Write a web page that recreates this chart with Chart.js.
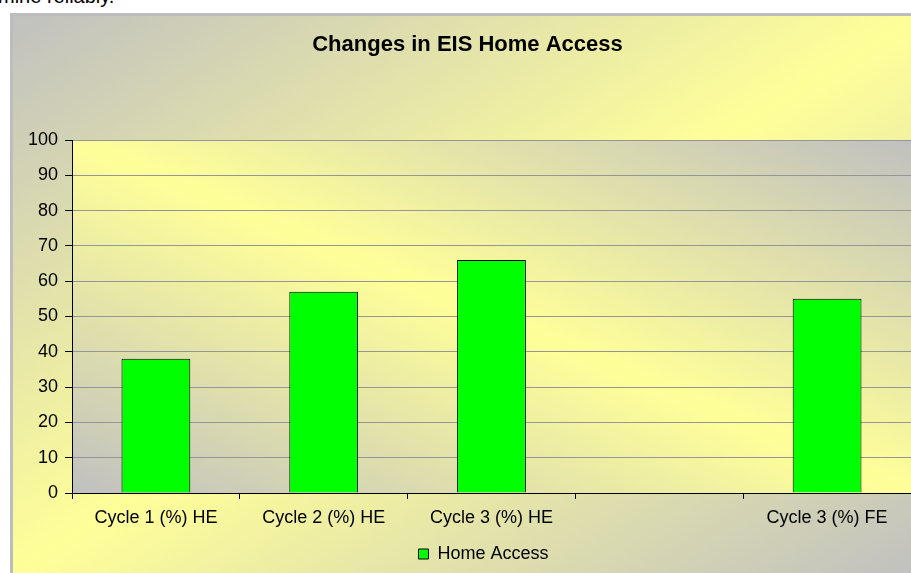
<!DOCTYPE html>
<html>
<head>
<meta charset="utf-8">
<script src="https://cdn.jsdelivr.net/npm/chart.js@4/dist/chart.umd.min.js"></script>
<style>
  html, body { margin: 0; padding: 0; background: #fff; overflow: hidden; width: 911px; height: 573px; }
  #wrap { position: absolute; left: 10px; top: 13px; width: 915px; height: 560px; }
  #frag { position: absolute; left: -2px; top: -14px; font: 20px "Liberation Sans", Arial, sans-serif; color: #000; line-height: 20px; white-space: nowrap; }
</style>
</head>
<body>
<div id="frag">mine reliably.</div>
<div id="wrap"><canvas id="c" width="915" height="560"></canvas></div>
<script>
const categories = ["Cycle 1 (%) HE", "Cycle 2 (%) HE", "Cycle 3 (%) HE", "", "Cycle 3 (%) FE"];
const homeAccess = [38, 57, 66, null, 55];
const yTicks = [0, 10, 20, 30, 40, 50, 60, 70, 80, 90, 100];
const chartTitle = "Changes in EIS Home Access";
const seriesName = "Home Access";

const GRAY = "#c0c0c0", YEL = "#ffff99";
function gradRect(ctx, x, y, w, h, dir) {
  ctx.save();
  ctx.translate(x, y);
  ctx.scale(w, h);
  const g = ctx.createLinearGradient(dir[0], dir[1], dir[2], dir[3]);
  g.addColorStop(0, GRAY);
  g.addColorStop(0.5, YEL);
  g.addColorStop(1, GRAY);
  ctx.fillStyle = g;
  ctx.fillRect(0, 0, 1, 1);
  ctx.restore();
}
const bgPlugin = {
  id: "bg",
  beforeDraw(chart) {
    const ctx = chart.ctx, W = chart.width, H = chart.height;
    gradRect(ctx, 0, 0, W, H, [0, 0, 1, 1]);
    const a = chart.chartArea;
    gradRect(ctx, a.left, a.top, a.right - a.left, a.bottom - a.top, [1, 0, 0, 1]);
    ctx.save();
    ctx.strokeStyle = "#bdbdbd";
    ctx.lineWidth = 3;
    ctx.strokeRect(1.5, 1.5, W, H);
    ctx.restore();
  }
};
const legendShift = {
  id: "legendShift",
  afterLayout(chart) {
    const l = chart.legend;
    if (l) { l.left += 16; l.right += 16; }
  }
};

Chart.defaults.font.family = '"Liberation Sans", Arial, sans-serif';
Chart.defaults.color = "#000";

new Chart(document.getElementById("c"), {
  type: "bar",
  data: {
    labels: categories,
    datasets: [{
      label: seriesName,
      data: homeAccess,
      backgroundColor: "#00ff00",
      borderColor: "#000",
      borderWidth: 1,
      categoryPercentage: 1,
      barPercentage: 0.41
    }]
  },
  options: {
    responsive: false,
    animation: false,
    layout: { padding: { left: 14, right: 14, top: 0, bottom: 0 } },
    plugins: {
      title: {
        display: true,
        text: chartTitle,
        font: { size: 22, weight: "bold" },
        color: "#000",
        padding: { top: 19, bottom: 81.6 }
      },
      legend: {
        position: "bottom",
        labels: {
          boxWidth: 10, boxHeight: 10,
          font: { size: 18 },
          color: "#000",
          padding: 10
        }
      },
      tooltip: { enabled: false }
    },
    scales: {
      x: {
        grid: { display: true, drawOnChartArea: false, drawTicks: true, tickLength: 6, tickColor: "#000", offset: true },
        border: { display: true, color: "#000", width: 1 },
        ticks: { font: { size: 18 }, color: "#000", padding: 8, maxRotation: 0, autoSkip: false },
        afterFit(s) { s.height = 42; }
      },
      y: {
        min: 0, max: 100,
        afterBuildTicks(s) { s.ticks = yTicks.map(v => ({ value: v })); },
        grid: { color: "#969696", lineWidth: 1, tickLength: 7, tickColor: "#000" },
        border: { display: true, color: "#000", width: 1 },
        ticks: { font: { size: 18 }, color: "#000", padding: 7 },
        afterFit(s) { s.width = 48; }
      }
    }
  },
  plugins: [bgPlugin, legendShift]
});
</script>
</body>
</html>
